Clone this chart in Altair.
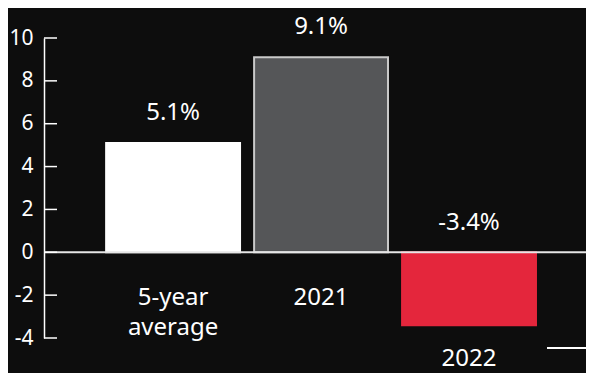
import altair as alt
import pandas as pd

categories = ["5-year average", "2021", "2022"]
values = [5.1, 9.1, -3.4]
value_labels = ["5.1%", "9.1%", "-3.4%"]
category_labels = ["5-year\naverage", "2021", "2022"]
fill_colors = ["#ffffff", "#555658", "#e4263c"]
stroke_colors = ["#ffffff", "#c9c9c9", "#e4263c"]
y_ticks = [-4, -2, 0, 2, 4, 6, 8, 10]

FONT = "Noto Sans"
W = 542

df = pd.DataFrame({
    "category": categories,
    "value": values,
    "vlabel": value_labels,
    "clabel": category_labels,
    "fill": fill_colors,
    "stroke": stroke_colors,
})

ticks_df = pd.DataFrame({"t": y_ticks})
one = pd.DataFrame({"z": [0]})

yscale = alt.Scale(domain=[-4, 10], nice=False, zero=False)
xenc = alt.X("category:N", sort=categories,
             scale=alt.Scale(paddingInner=0.095, paddingOuter=0.379, align=0.554),
             axis=None)

bars = alt.Chart(df).mark_bar(strokeWidth=2).encode(
    x=xenc,
    y=alt.Y("value:Q", scale=yscale,
            axis=alt.Axis(values=y_ticks, domain=True, domainColor="#ffffff",
                          domainWidth=1.5, ticks=False, tickSize=0, labelPadding=11,
                          labelColor="#ffffff", labelFontSize=21, labelFont=FONT,
                          labelExpr="'' + datum.value",
                          grid=False, title=None)),
    y2=alt.datum(0),
    color=alt.Color("fill:N", scale=None),
    stroke=alt.Stroke("stroke:N", scale=None),
)

tick_marks = alt.Chart(ticks_df).mark_rule(color="#ffffff", strokeWidth=1.5).encode(
    y=alt.Y("t:Q", scale=yscale),
    x=alt.value(0),
    x2=alt.value(13),
)

zero_line = alt.Chart(one).mark_rule(color="#e6e6e6", strokeWidth=2).encode(
    y=alt.Y("z:Q", scale=yscale),
    x=alt.value(0),
    x2=alt.value(W),
)

text_style = dict(color="#ffffff", fontSize=24, font=FONT)

value_pos = alt.Chart(df).transform_filter("datum.value >= 0").mark_text(
    baseline="middle", dy=-30, **text_style
).encode(x=xenc, y=alt.Y("value:Q", scale=yscale), text="vlabel:N")

value_neg = alt.Chart(df).transform_filter("datum.value < 0").transform_calculate(
    z="0"
).mark_text(
    baseline="middle", dy=-29, **text_style
).encode(x=xenc, y=alt.Y("z:Q", scale=yscale), text="vlabel:N")

cat_pos = alt.Chart(df).transform_filter("datum.value >= 0").transform_calculate(
    z="0"
).mark_text(
    baseline="top", dy=34, lineBreak="\n", lineHeight=30, **text_style
).encode(x=xenc, y=alt.Y("z:Q", scale=yscale), text="clabel:N")

cat_neg = alt.Chart(df).transform_filter("datum.value < 0").mark_text(
    baseline="top", dy=22, lineBreak="\n", lineHeight=30, **text_style
).encode(x=xenc, y=alt.Y("value:Q", scale=yscale), text="clabel:N")

deco = alt.Chart(one).mark_rule(color="#ffffff", strokeWidth=2).encode(
    x=alt.value(503),
    x2=alt.value(W),
    y=alt.value(310),
)

chart = alt.layer(
    bars, zero_line, tick_marks, value_pos, value_neg, cat_pos, cat_neg, deco
).properties(
    width=W,
    height=300,
    autosize=alt.AutoSizeParams(type="none"),
    padding={"left": 36, "top": 30, "right": 0, "bottom": 35},
).configure(background="#0d0d0d").configure_view(stroke=None)

chart.save("out.html", embed_options={"renderer": "svg", "actions": False})
